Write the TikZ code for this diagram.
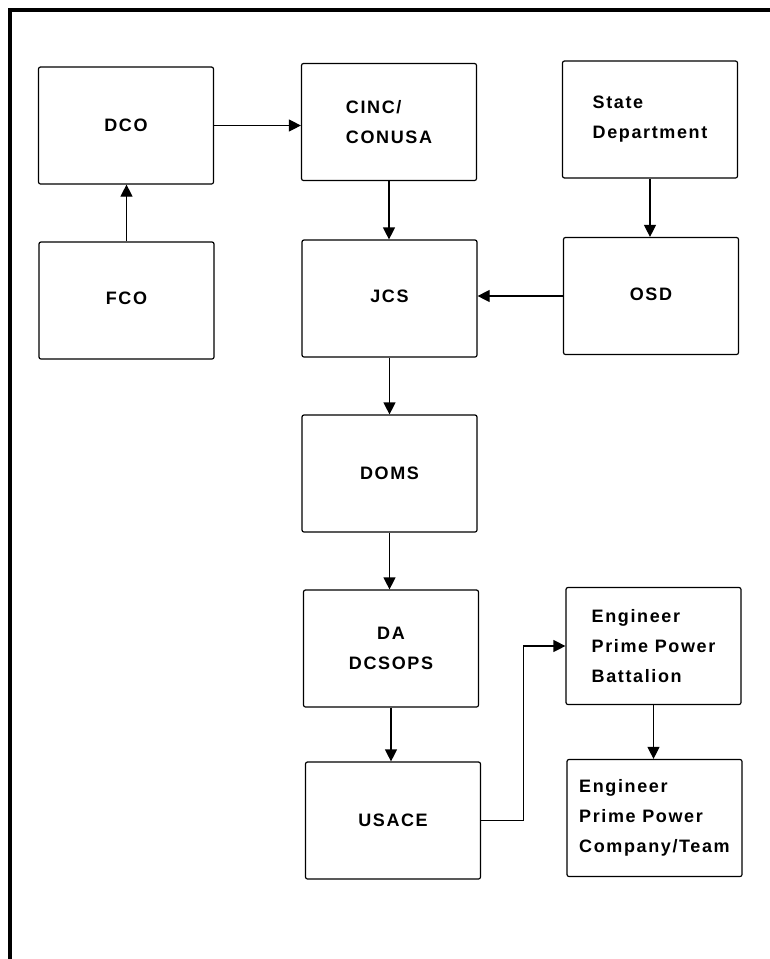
\documentclass[tikz,border=0pt]{standalone}
\usepackage{fontspec}
\newfontfamily\orgfont[LetterSpace=9]{Liberation Sans}
\usepackage{tikz}
\usetikzlibrary{arrows.meta,positioning,calc}

\begin{document}
\begin{tikzpicture}[
  x=1pt, y=-1pt,
  unit/.style={draw, line width=1.2pt, rounded corners=2pt, minimum width=175pt, minimum height=117pt, align=center, font={\fontsize{18}{30}\orgfont\bfseries}},
  leftunit/.style={unit, align=left},
  link/.style={line width=1.2pt, -{Triangle[length=12pt,width=12pt]}}
]
  \useasboundingbox (0,0) rectangle (770,959);
  \draw[line width=3.2pt] (770,10) -- (10,10) -- (10,959);

  \node[unit] (dco) at (126,125.5) {DCO};
  \node[leftunit] (cinc) at (389,122) {CINC/\\CONUSA};
  \node[leftunit] (state) at (650,119.5) {State\\Department};

  \node[unit] (fco) at (126.5,300.5) {\raisebox{5pt}{FCO}};
  \node[unit] (jcs) at (389.5,298.5) {\raisebox{5pt}{JCS}};
  \node[unit] (osd) at (651,296) {\raisebox{4pt}{OSD}};

  \node[unit] (doms) at (389.5,473.5) {DOMS};
  \node[unit] (da) at (391,648.5) {DA\\DCSOPS};
  \node[unit] (usace) at (393,820.5) {USACE};

  \node[leftunit] (batt) at (653.5,646) {Engineer\\Prime Power\\Battalion};
  \node[leftunit] (comp) at (654.5,818) {Engineer\\Prime Power\\Company/Team};

  \draw[link] (fco.north) -- (fco.north |- dco.south);
  \draw[link] (dco.east) -- (dco.east -| cinc.west);
  \draw[link] (cinc.south) -- (cinc.south |- jcs.north);
  \draw[link] (state.south) -- (state.south |- osd.north);
  \draw[link] (osd.west) -- (osd.west -| jcs.east);
  \draw[link] (jcs.south) -- (jcs.south |- doms.north);
  \draw[link] (doms.south) -- (doms.south |- da.north);
  \draw[link] (da.south) -- (da.south |- usace.north);
  % USACE out to the battalion
  \coordinate (bend) at ($(usace.east)!.5!(batt.west)$);
  \draw[link] (usace.east) -| (bend) |- (batt.west);
  \draw[link] (batt.south) -- (batt.south |- comp.north);
\end{tikzpicture}
\end{document}
